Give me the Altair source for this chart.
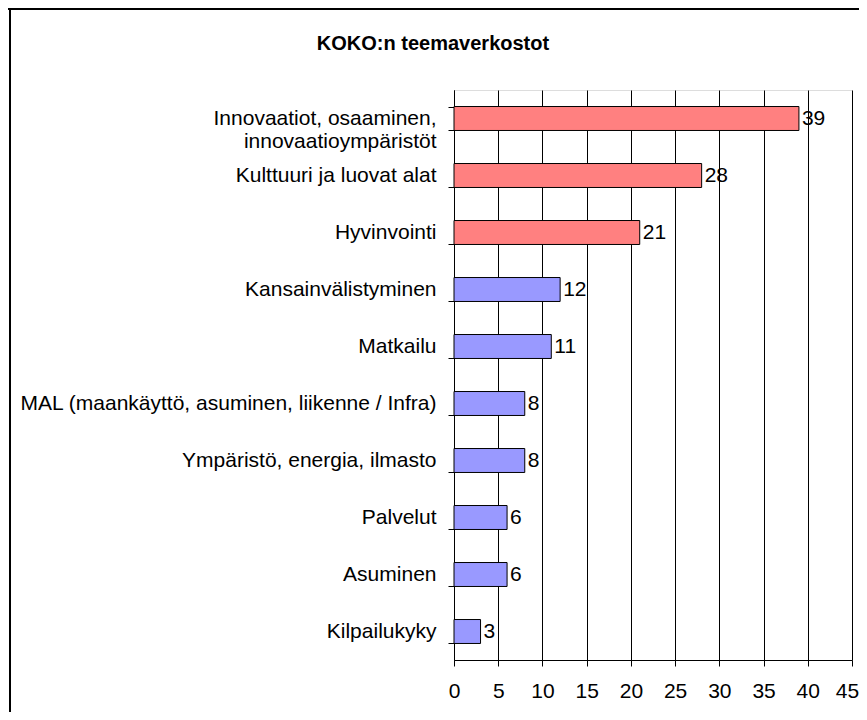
import altair as alt
import pandas as pd

categories = [
    "Innovaatiot, osaaminen, innovaatioympäristöt",
    "Kulttuuri ja luovat alat",
    "Hyvinvointi",
    "Kansainvälistyminen",
    "Matkailu",
    "MAL (maankäyttö, asuminen, liikenne / Infra)",
    "Ympäristö, energia, ilmasto",
    "Palvelut",
    "Asuminen",
    "Kilpailukyky",
]
values = [39, 28, 21, 12, 11, 8, 8, 6, 6, 3]
groups = ["top", "top", "top", "rest", "rest", "rest", "rest", "rest", "rest", "rest"]
x_ticks = [0, 5, 10, 15, 20, 25, 30, 35, 40, 45]
title_text = ["KOKO:n teemaverkostot"]

df = pd.DataFrame({"category": categories, "value": values, "group": groups})

FONT = "Liberation Sans"
FS = 21

label_expr = (
    "datum.label == 'Innovaatiot, osaaminen, innovaatioympäristöt' ? "
    "['Innovaatiot, osaaminen,', 'innovaatioympäristöt\u00a0\u00a0\u00a0'] : datum.label"
)

y_enc = alt.Y(
    "category:N",
    sort=categories,
    scale=alt.Scale(paddingInner=0.58, paddingOuter=0.29),
    axis=alt.Axis(
        title=None,
        labelFont=FONT,
        labelFontSize=FS,
        labelColor="black",
        labelPadding=12,
        labelLimit=600,
        labelLineHeight=23,
        labelExpr=label_expr,
        tickSize=6,
        tickBand="extent",
        tickColor="black",
        domainColor="black",
        grid=False,
    ),
)

x_enc = alt.X(
    "value:Q",
    scale=alt.Scale(domain=[0, 45], nice=False),
    axis=alt.Axis(
        title=None,
        values=x_ticks,
        grid=True,
        gridColor="black",
        gridWidth=1,
        domainColor="black",
        tickColor="black",
        tickSize=6,
        labelFont=FONT,
        labelFontSize=FS,
        labelColor="black",
        labelPadding=14,
        labelFlush=False,
        labelOffset={"condition": {"test": "datum.value === 45", "value": -5}, "value": 0},
    ),
)

base = alt.Chart(df)

bars = base.mark_bar(stroke="black", strokeWidth=1).encode(
    x=x_enc,
    y=y_enc,
    color=alt.Color(
        "group:N",
        scale=alt.Scale(domain=["top", "rest"], range=["#FF8080", "#9999FF"]),
        legend=None,
    ),
)

texts = base.mark_text(
    align="left", baseline="middle", dx=3, font=FONT, fontSize=FS, color="black"
).encode(
    x="value:Q",
    y=alt.Y("category:N", sort=categories),
    text="value:Q",
)

title_df = pd.DataFrame({"t": title_text})
title = alt.Chart(title_df).mark_text(
    align="center", baseline="middle", font=FONT, fontSize=20, fontWeight="bold", color="black"
).encode(x=alt.value(-21), y=alt.value(-46), text="t:N")

frame_df = pd.DataFrame({"k": [0]})
frame_top = alt.Chart(frame_df).mark_rule(color="black", strokeWidth=2).encode(
    x=alt.value(-446), x2=alt.value(420), y=alt.value(-81)
)
frame_left = alt.Chart(frame_df).mark_rule(color="black", strokeWidth=2).encode(
    x=alt.value(-444), y=alt.value(-82), y2=alt.value(640)
)

chart = (
    alt.layer(bars, texts, title, frame_top, frame_left)
    .properties(
        width=398,
        height=570,
        autosize=alt.AutoSizeParams(type="none"),
        padding={"left": 446, "top": 82, "right": 7, "bottom": 52},
    )
    .configure_view(stroke="#808080", strokeWidth=1)
    .configure(background="white")
)

chart.save("out.html", embed_options={"renderer": "svg", "actions": False})
